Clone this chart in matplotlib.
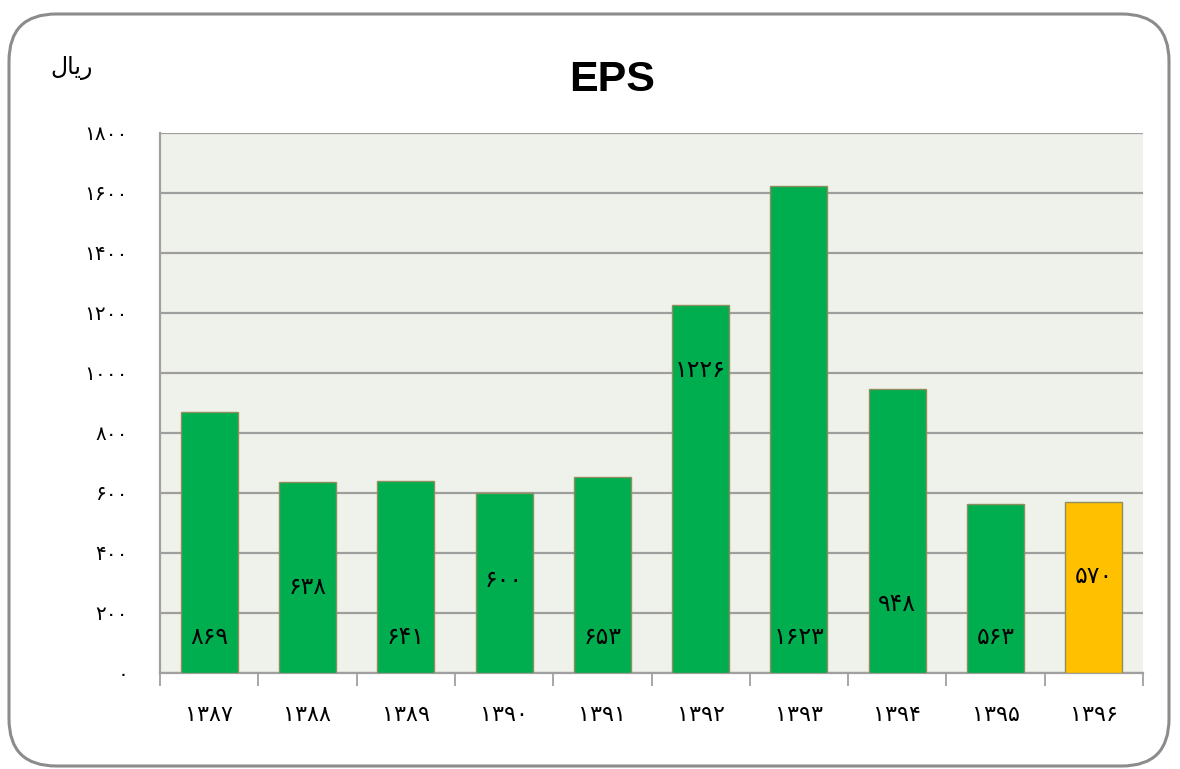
import matplotlib
matplotlib.use("Agg")
import matplotlib.pyplot as plt
from matplotlib.patches import FancyBboxPatch
from matplotlib.ticker import FixedLocator

years = ["۱۳۸۷", "۱۳۸۸", "۱۳۸۹", "۱۳۹۰", "۱۳۹۱", "۱۳۹۲", "۱۳۹۳", "۱۳۹۴", "۱۳۹۵", "۱۳۹۶"]
eps = [869, 638, 641, 600, 653, 1226, 1623, 948, 563, 570]
value_labels = ["۸۶۹", "۶۳۸", "۶۴۱", "۶۰۰", "۶۵۳", "۱۲۲۶", "۱۶۲۳", "۹۴۸", "۵۶۳", "۵۷۰"]
label_heights = [120, 287, 120, 310, 120, 1010, 120, 230, 120, 323]
y_ticks = [0, 200, 400, 600, 800, 1000, 1200, 1400, 1600, 1800]
y_tick_labels = ["۰", "۲۰۰", "۴۰۰", "۶۰۰", "۸۰۰", "۱۰۰۰", "۱۲۰۰", "۱۴۰۰", "۱۶۰۰", "۱۸۰۰"]
bar_colors = ["#00AD4F"] * 9 + ["#FFC000"]
unit_label = "\uFEDD\uFE8E\uFEF3\uFEAD"  # ریال in presentation forms, visual order

plt.rcParams['font.family'] = ['DejaVu Sans']

fig = plt.figure(figsize=(11.8, 7.69), dpi=100)
fig.patch.set_facecolor("white")

frame = FancyBboxPatch((9 / 1180, 3 / 769), 1160 / 1180, 752 / 769,
                       boxstyle="round,pad=0,rounding_size=0.04",
                       transform=fig.transFigure, facecolor="none",
                       edgecolor="#8C8C8C", linewidth=2.2, zorder=10,
                       mutation_aspect=1180 / 769)
fig.patches.append(frame)

ax = fig.add_axes([160 / 1180, 1 - 673 / 769, (1143 - 160) / 1180, (673 - 133) / 769])
ax.set_facecolor("#EFF2EA")

x = list(range(len(years)))
ax.bar(x, eps, width=0.58, color=bar_colors, edgecolor="#8E8E5E", linewidth=1.0, zorder=3)

for xi, lab, h in zip(x, value_labels, label_heights):
    ax.text(xi, h, lab, ha="center", va="center", fontsize=17, color="black", zorder=4)

ax.set_xlim(-0.5, len(years) - 0.5)
ax.set_ylim(0, 1800)
ax.set_yticks(y_ticks)
ax.set_yticklabels(y_tick_labels, fontsize=14.5)
ax.set_xticks(x)
ax.set_xticklabels(years, fontsize=16)
ax.xaxis.set_minor_locator(FixedLocator([i - 0.5 for i in range(len(years) + 1)]))
ax.tick_params(axis="x", which="major", length=0, pad=23)
ax.tick_params(axis="x", which="minor", length=9, width=1.3, color="#A0A0A0")
ax.tick_params(axis="y", which="major", length=0, pad=23)

ax.yaxis.grid(True, color="#9E9E9E", linewidth=1.6, zorder=1)
ax.set_axisbelow(True)
for side in ["top", "right"]:
    ax.spines[side].set_visible(False)
for side in ["left", "bottom"]:
    ax.spines[side].set_color("#A0A0A0")
    ax.spines[side].set_linewidth(1.6)

fig.text(612 / 1180, 1 - 80 / 769, "EPS", fontsize=31, fontweight="bold",
         ha="center", va="center", family="Liberation Sans")
fig.text(72 / 1180, 1 - 68 / 769, unit_label, fontsize=17, ha="center", va="center")

fig.savefig("out.png", dpi=100)
